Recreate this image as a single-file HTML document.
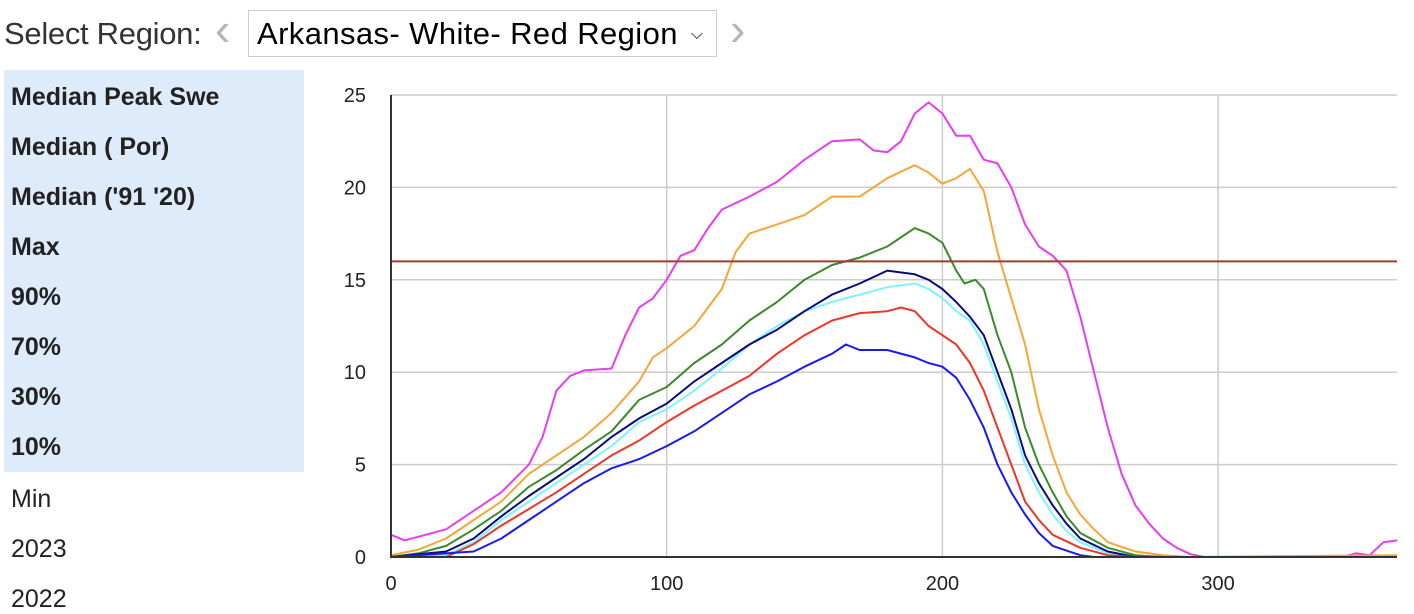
<!DOCTYPE html><html><head><style>
body{margin:0;width:1414px;height:614px;overflow:hidden;background:#fff;font-family:"Liberation Sans",sans-serif;position:relative}
.hd{position:absolute;left:4px;top:16px;font-size:31px;color:#333;letter-spacing:-0.3px}
.sel{position:absolute;left:248px;top:10px;width:469px;height:47px;border:1px solid #ccc;box-sizing:border-box;font-size:31px;color:#000;padding:5px 0 0 8px;letter-spacing:0.4px;white-space:nowrap}
.arr{position:absolute;font-size:46px;color:#b5b5b5;top:2px}
.panel{position:absolute;left:4px;top:70px;width:300px;height:402px;background:#deebfb}
.it{position:absolute;left:11px;font-size:25px;color:#222}
.b{font-weight:bold}
</style></head><body>
<div class="hd">Select Region:</div>
<div class="arr" style="left:215px">&#x2039;</div>
<div class="sel">Arkansas- White- Red Region <span style="font-size:16px;margin-left:4px;position:relative;top:-5px">&#x2335;</span></div>
<div class="arr" style="left:730px">&#x203A;</div>
<div class="panel"></div>
<div class="it b" style="top:83px">Median Peak Swe</div>
<div class="it b" style="top:133px">Median ( Por)</div>
<div class="it b" style="top:183px">Median ('91 '20)</div>
<div class="it b" style="top:233px">Max</div>
<div class="it b" style="top:283px">90%</div>
<div class="it b" style="top:333px">70%</div>
<div class="it b" style="top:383px">30%</div>
<div class="it b" style="top:433px">10%</div>
<div class="it" style="top:485px">Min</div>
<div class="it" style="top:535px">2023</div>
<div class="it" style="top:585px">2022</div>
<svg id="s" width="1414" height="614" style="position:absolute;left:0;top:0" font-family="Liberation Sans, sans-serif" font-size="20"></svg>
<script>
const X=d=>391+d*2.757,Y=v=>557-v*18.48;
let h='';
for(let i=1;i<=5;i++){const y=Y(i*5);h+=`<line x1="391" x2="1397" y1="${y}" y2="${y}" stroke="#ccc" stroke-width="1.5"/>`;}
for(const d of [100,200,300])h+=`<line x1="${X(d)}" x2="${X(d)}" y1="95" y2="557" stroke="#ccc" stroke-width="1.5"/>`;
for(let i=0;i<=5;i++)h+=`<text x="366" y="${Y(i*5)+7}" text-anchor="end" fill="#222">${i*5}</text>`;
for(const d of [0,100,200,300])h+=`<text x="${X(d)}" y="590" text-anchor="middle" fill="#222">${d}</text>`;
const S={
"#e83cf0":[[0,1.2],[5,0.9],[10,1.1],[20,1.5],[30,2.5],[40,3.5],[50,5],[55,6.5],[60,9],[65,9.8],[70,10.1],[80,10.2],[85,12],[90,13.5],[95,14],[100,15],[105,16.3],[110,16.6],[115,17.8],[120,18.8],[130,19.5],[140,20.3],[150,21.5],[160,22.5],[170,22.6],[175,22],[180,21.9],[185,22.5],[190,24],[195,24.6],[200,24],[205,22.8],[210,22.8],[215,21.5],[220,21.3],[225,20],[230,18],[235,16.8],[240,16.3],[245,15.5],[250,13],[255,10],[260,7],[265,4.5],[270,2.8],[275,1.8],[280,1],[285,0.5],[290,0.15],[295,0],[345,0],[350,0.2],[355,0.1],[360,0.8],[365,0.9]],
"#f4a636":[[0,0.1],[10,0.4],[20,1],[30,2],[40,3],[50,4.5],[60,5.5],[70,6.5],[80,7.8],[90,9.5],[95,10.8],[100,11.3],[110,12.5],[120,14.5],[125,16.5],[130,17.5],[140,18],[150,18.5],[160,19.5],[170,19.5],[180,20.5],[190,21.2],[195,20.8],[200,20.2],[205,20.5],[210,21],[215,19.8],[220,16.5],[225,14],[230,11.5],[235,8],[240,5.5],[245,3.5],[250,2.3],[255,1.5],[260,0.8],[270,0.3],[280,0.1],[290,0],[365,0.1]],
"#3a8a2a":[[0,0],[10,0.2],[20,0.6],[30,1.5],[40,2.5],[50,3.8],[60,4.7],[70,5.8],[80,6.8],[90,8.5],[100,9.2],[110,10.5],[120,11.5],[130,12.8],[140,13.8],[150,15],[160,15.8],[170,16.2],[180,16.8],[190,17.8],[195,17.5],[200,17],[205,15.5],[208,14.8],[212,15],[215,14.5],[220,12],[225,10],[230,7],[235,5],[240,3.5],[245,2.2],[250,1.3],[260,0.5],[270,0.1],[280,0]],
"#7ef4f8":[[0,0],[20,0.1],[30,0.8],[40,2],[50,3],[60,4],[70,5],[80,6],[90,7.3],[100,8],[110,9],[120,10.2],[130,11.5],[140,12.5],[150,13.3],[160,13.8],[170,14.2],[180,14.6],[190,14.8],[195,14.5],[200,14],[205,13.3],[210,12.8],[215,11.5],[220,9.5],[225,7.5],[230,5],[235,3.5],[240,2.3],[245,1.4],[250,0.8],[260,0.2],[270,0]],
"#0a0a80":[[0,0],[20,0.3],[30,1],[40,2.2],[50,3.3],[60,4.3],[70,5.3],[80,6.5],[90,7.5],[100,8.3],[110,9.5],[120,10.5],[130,11.5],[140,12.3],[150,13.3],[160,14.2],[170,14.8],[180,15.5],[190,15.3],[195,15],[200,14.5],[205,13.8],[210,13],[215,12],[220,10],[225,8],[230,5.5],[235,4],[240,2.8],[245,1.8],[250,1],[260,0.3],[270,0]],
"#ee3528":[[0,0],[20,0],[30,0.7],[40,1.7],[50,2.6],[60,3.5],[70,4.5],[80,5.5],[90,6.3],[100,7.3],[110,8.2],[120,9],[130,9.8],[140,11],[150,12],[160,12.8],[170,13.2],[180,13.3],[185,13.5],[190,13.3],[195,12.5],[200,12],[205,11.5],[210,10.5],[215,9],[220,7],[225,5],[230,3],[235,2],[240,1.2],[250,0.5],[260,0.1],[270,0]],
"#1a1aee":[[0,0],[30,0.3],[40,1],[50,2],[60,3],[70,4],[80,4.8],[90,5.3],[100,6],[110,6.8],[120,7.8],[130,8.8],[140,9.5],[150,10.3],[160,11],[165,11.5],[170,11.2],[180,11.2],[190,10.8],[195,10.5],[200,10.3],[205,9.7],[210,8.5],[215,7],[220,5],[225,3.5],[230,2.3],[235,1.3],[240,0.6],[250,0.1],[255,0]]};
for(const c in S)h+=`<polyline fill="none" stroke="${c}" stroke-width="2" stroke-linejoin="round" points="${S[c].map(p=>X(p[0]).toFixed(1)+','+Y(p[1]).toFixed(1)).join(' ')}"/>`;
h+=`<line x1="391" x2="1397" y1="${Y(16)}" y2="${Y(16)}" stroke="#a33a33" stroke-width="2"/>`;
h+=`<line x1="391" x2="391" y1="95" y2="558" stroke="#333" stroke-width="2"/><line x1="390" x2="1397" y1="557" y2="557" stroke="#333" stroke-width="2"/>`;
document.getElementById('s').innerHTML=h;
</script>
</body></html>
